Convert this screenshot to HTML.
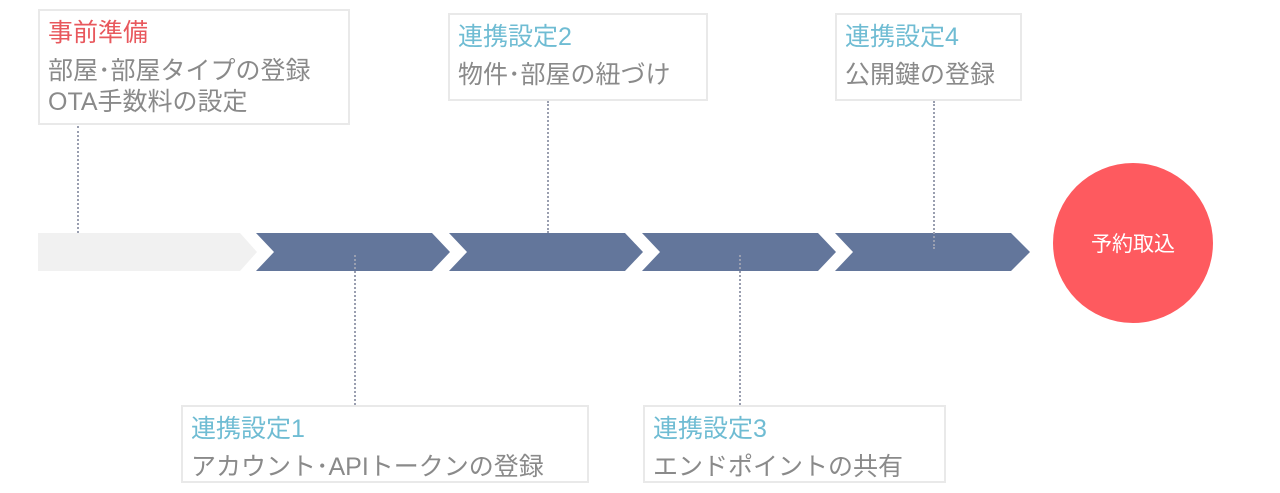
<!DOCTYPE html>
<html><head><meta charset="utf-8"><style>
body{margin:0;width:1280px;height:493px;background:#fff;position:relative;overflow:hidden;font-family:"Liberation Sans","Noto Sans CJK JP",sans-serif}
.b{position:absolute;border:2px solid #e9e9e9;background:#fff;box-sizing:border-box;padding:7px 0 0 8px;font-size:25px;line-height:31px;color:#8a8a8a;white-space:nowrap}
.b div:first-child{font-size:25px;line-height:30px;margin-bottom:8px}
.t{color:#6fbcd3}
.r{color:#e8585d}
.d{position:absolute;width:0;border-left:2px dotted #9a9fb0}
</style></head><body>
<svg width="1280" height="493" style="position:absolute;left:0;top:0">
<polygon points="38,233 240,233 257,252 240,271 38,271" fill="#f1f1f1"/>
<polygon points="256,233 432,233 450,252 432,271 256,271 274,252" fill="#63769b"/>
<polygon points="449,233 625,233 643,252 625,271 449,271 467,252" fill="#63769b"/>
<polygon points="642,233 818,233 836,252 818,271 642,271 660,252" fill="#63769b"/>
<polygon points="835,233 1011,233 1030,252 1011,271 835,271 853,252" fill="#63769b"/>
<circle cx="1133" cy="243" r="80" fill="#fe5a5f"/>
<text x="1133" y="251" text-anchor="middle" font-size="21" fill="#fff" font-family="Liberation Sans, Noto Sans CJK JP, sans-serif">予約取込</text>
</svg>
<div class="d" style="left:77px;top:126px;height:107px"></div>
<div class="d" style="left:547px;top:101px;height:132px"></div>
<div class="d" style="left:933px;top:101px;height:148px"></div>
<div class="d" style="left:354px;top:255px;height:150px"></div>
<div class="d" style="left:739px;top:255px;height:150px"></div>
<div class="b" style="left:38px;top:9px;width:312px;height:116px"><div class="r">事前準備</div><div>部屋･部屋タイプの登録<br>OTA手数料の設定</div></div>
<div class="b" style="left:448px;top:13px;width:260px;height:88px"><div class="t">連携設定2</div><div>物件･部屋の紐づけ</div></div>
<div class="b" style="left:835px;top:13px;width:187px;height:88px"><div class="t">連携設定4</div><div>公開鍵の登録</div></div>
<div class="b" style="left:181px;top:405px;width:408px;height:78px"><div class="t">連携設定1</div><div>アカウント･APIトークンの登録</div></div>
<div class="b" style="left:643px;top:405px;width:303px;height:78px"><div class="t">連携設定3</div><div>エンドポイントの共有</div></div>
</body></html>
